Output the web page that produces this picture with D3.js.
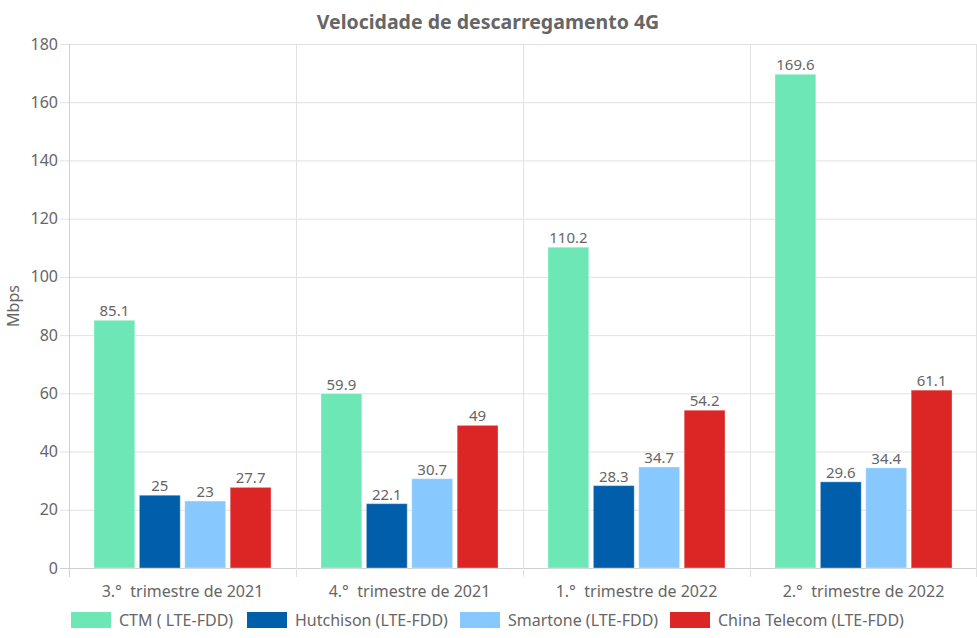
<!DOCTYPE html>
<html><head><meta charset="utf-8">
<script src="https://cdn.jsdelivr.net/npm/d3@7"></script>
<style>body{margin:0;background:#fff}svg{display:block;font-family:"Noto Sans",sans-serif}</style>
</head><body><svg id="c" width="977" height="638"></svg>
<script>
const categories = ["3.°  trimestre de 2021","4.°  trimestre de 2021","1.°  trimestre de 2022","2.°  trimestre de 2022"];
const seriesNames = ["CTM ( LTE-FDD)","Hutchison (LTE-FDD)","Smartone (LTE-FDD)","China Telecom (LTE-FDD)"];
const ctm = [85.1, 59.9, 110.2, 169.6];
const hutchison = [25, 22.1, 28.3, 29.6];
const smartone = [23, 30.7, 34.7, 34.4];
const chinaTelecom = [27.7, 49, 54.2, 61.1];
const yTicks = [0,20,40,60,80,100,120,140,160,180];
const colors = ["#6ee7b7","#005eab","#87c8ff","#dc2626"];
const series = [ctm, hutchison, smartone, chinaTelecom];

const svg = d3.select("#c");
const L=69, R=977, T=44, B=568;
const x = d3.scaleBand().domain(categories).range([L,R]);
const xi = d3.scaleBand().domain(d3.range(4)).range([0, x.bandwidth()*0.8]);
const y = d3.scaleLinear().domain([0,180]).range([B,T]);
const txt="#666", grid="#e1e1e1";

svg.append("g").selectAll("line").data(yTicks).join("line")
  .attr("x1",L-9).attr("x2",R).attr("y1",d=>y(d)+0.5).attr("y2",d=>y(d)+0.5)
  .attr("stroke",d=>d===0?"#d0d0d0":grid);
const vb = [L, ...categories.map(c=>x(c)+x.bandwidth())];
svg.append("g").selectAll("line").data(vb).join("line")
  .attr("x1",d=>Math.min(d,R-1)+0.5).attr("x2",d=>Math.min(d,R-1)+0.5).attr("y1",T).attr("y2",B+9)
  .attr("stroke",(d,i)=>i===0?"#d0d0d0":grid);
svg.append("g").selectAll("text").data(yTicks).join("text")
  .attr("x",L-11).attr("y",d=>y(d)).attr("dy","0.35em").attr("text-anchor","end")
  .attr("fill",txt).attr("font-size",16).text(d=>d);
svg.append("g").selectAll("text").data(categories).join("text")
  .attr("x",d=>x(d)+x.bandwidth()/2).attr("y",B+29).attr("text-anchor","middle")
  .attr("xml:space","preserve").style("white-space","pre")
  .attr("fill",txt).attr("font-size",16).text(d=>d);
categories.forEach((c,ci)=>{
  const g = svg.append("g");
  series.forEach((s,si)=>{
    const slot = xi.bandwidth();
    const bw = slot*0.9;
    const bx = x(c)+x.bandwidth()*0.1 + xi(si) + (slot-bw)/2;
    g.append("rect").attr("x",bx).attr("y",y(s[ci])).attr("width",bw).attr("height",B-y(s[ci]))
      .attr("fill",colors[si]).attr("stroke","rgba(255,255,255,0.35)").attr("stroke-width",1);
    g.append("text").attr("x",bx+bw/2).attr("y",y(s[ci])-4).attr("text-anchor","middle")
      .attr("fill",txt).attr("font-size",15).text(s[ci]);
  });
});
svg.append("text").attr("x",488).attr("y",29).attr("text-anchor","middle").attr("fill",txt)
  .attr("font-size",19.5).attr("font-weight","bold").text("Velocidade de descarregamento 4G");
svg.append("text").attr("transform","translate(19,306) rotate(-90)").attr("text-anchor","middle")
  .attr("fill",txt).attr("font-size",16).text("Mbps");
const lx=[71,247,460,670];
seriesNames.forEach((n,i)=>{
  svg.append("rect").attr("x",lx[i]).attr("y",612).attr("width",40).attr("height",16).attr("fill",colors[i]);
  svg.append("text").attr("x",lx[i]+48).attr("y",620).attr("dy","0.35em").attr("fill",txt).attr("font-size",16).text(n);
});
</script></body></html>
